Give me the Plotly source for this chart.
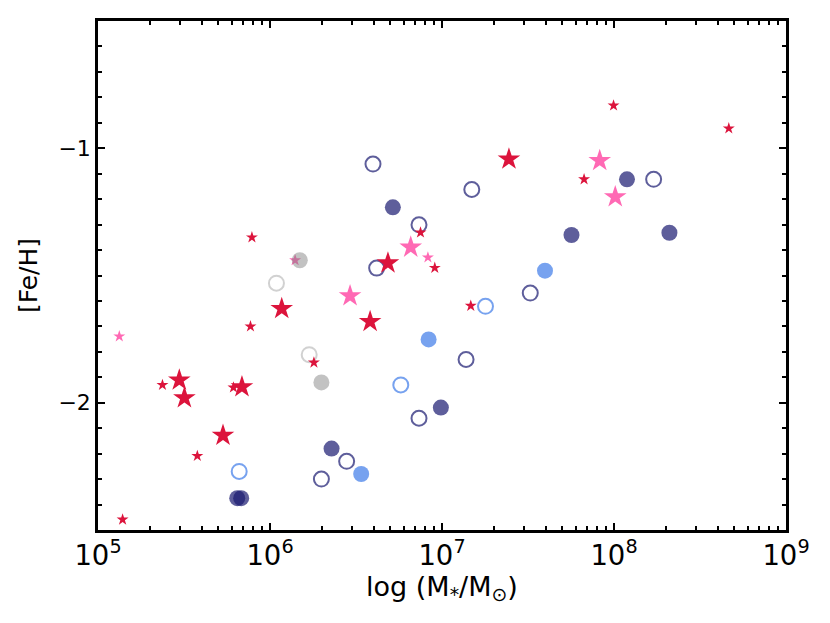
import plotly.graph_objects as go

# Red (crimson) large stars
red_big_x = [2.97e5, 3.18e5, 6.87e5, 5.33e5, 1.17e6, 3.82e6, 4.85e6, 2.45e7]
red_big_y = [-1.911, -1.981, -1.938, -2.128, -1.630, -1.681, -1.451, -1.043]

# Red (crimson) small stars
red_small_x = [1.39e5, 2.37e5, 6.13e5, 7.7e5, 3.78e5, 1.80e6, 7.85e5, 7.5e6, 9.08e6, 1.47e7, 9.94e7, 6.7e7, 4.65e8]
red_small_y = [-2.459, -1.930, -1.940, -1.700, -2.209, -1.842, -1.350, -1.331, -1.470, -1.619, -0.832, -1.122, -0.922]

# Pink large stars
pink_big_x = [2.92e6, 6.58e6, 8.26e7, 1.017e8]
pink_big_y = [-1.580, -1.389, -1.049, -1.191]

# Pink small stars
pink_small_x = [1.33e5, 8.28e6, 1.40e6]
pink_small_y = [-1.739, -1.429, -1.440]

# Dark filled circles
dark_fill_x = [5.18e6, 5.66e7, 1.19e8, 2.1e8, 9.85e6, 2.28e6, 6.45e5, 6.80e5]
dark_fill_y = [-1.232, -1.341, -1.122, -1.332, -2.019, -2.180, -2.375, -2.375]

# Dark open circles
dark_open_x = [3.97e6, 1.49e7, 7.35e6, 4.17e6, 1.70e8, 3.26e7, 1.38e7, 7.35e6, 2.79e6, 1.99e6]
dark_open_y = [-1.062, -1.162, -1.301, -1.471, -1.122, -1.569, -1.830, -2.061, -2.230, -2.300]

# Light blue filled circles
blue_fill_x = [8.36e6, 3.97e7, 3.39e6]
blue_fill_y = [-1.751, -1.481, -2.280]

# Light blue open circles
blue_open_x = [5.76e6, 1.79e7, 6.62e5]
blue_open_y = [-1.930, -1.621, -2.270]

# Gray filled circles
gray_fill_x = [1.49e6, 1.99e6]
gray_fill_y = [-1.440, -1.920]

# Gray open circles
gray_open_x = [1.09e6, 1.69e6]
gray_open_y = [-1.530, -1.811]

fig = go.Figure()

def star(x, y, color, size):
    fig.add_trace(go.Scatter(x=x, y=y, mode="markers",
                             marker=dict(symbol="star", size=size, color=color,
                                         line=dict(width=0))))

def circ(x, y, color, filled, size=16):
    if filled:
        m = dict(symbol="circle", size=size, color=color, line=dict(width=0))
    else:
        m = dict(symbol="circle-open", size=size - 1, color=color, line=dict(width=2))
    fig.add_trace(go.Scatter(x=x, y=y, mode="markers", marker=m))

star(pink_small_x, pink_small_y, "rgba(255,105,180,1)", 9)
star(pink_big_x, pink_big_y, "rgba(255,105,180,1)", 17)
circ(gray_fill_x, gray_fill_y, "rgba(128,128,128,0.48)", True)
circ(gray_open_x, gray_open_y, "rgba(190,190,190,0.7)", False)
circ(blue_fill_x, blue_fill_y, "rgba(100,149,237,0.88)", True)
circ(blue_open_x, blue_open_y, "rgba(100,149,237,0.88)", False)
circ(dark_fill_x, dark_fill_y, "rgba(25,25,112,0.7)", True)
circ(dark_open_x, dark_open_y, "rgba(25,25,112,0.7)", False)
star(red_small_x, red_small_y, "rgb(220,20,60)", 9)
star(red_big_x, red_big_y, "rgb(220,20,60)", 17)

axis_common = dict(showline=True, linecolor="black", linewidth=2.5, mirror="allticks",
                   ticks="inside", ticklen=7, tickwidth=2, tickcolor="black",
                   showgrid=False, zeroline=False,
                   tickfont=dict(family="DejaVu Sans", size=22, color="black"))

fig.update_xaxes(type="log", range=[5, 9], dtick=1, exponentformat="power",
                 minor=dict(ticks="inside", ticklen=4, tickwidth=1.5, tickcolor="black",
                            dtick="D1", showgrid=False),
                 title=dict(text="log (M<sub>*</sub>/M<sub>⊙</sub>)",
                            font=dict(family="DejaVu Sans", size=27, color="black"),
                            standoff=2),
                 **axis_common)
fig.update_yaxes(range=[-2.5, -0.5], tickvals=[-2, -1], ticktext=["−2", "−1"],
                 minor=dict(ticks="inside", ticklen=4, tickwidth=1.5, tickcolor="black",
                            dtick=0.1, showgrid=False),
                 title=dict(text="[Fe/H]", font=dict(family="DejaVu Sans", size=25, color="black"),
                            standoff=14),
                 **axis_common)

fig.update_layout(width=830, height=623, showlegend=False,
                  plot_bgcolor="white", paper_bgcolor="white",
                  margin=dict(l=90, r=52, t=10, b=101))

fig.write_html("out.html")
